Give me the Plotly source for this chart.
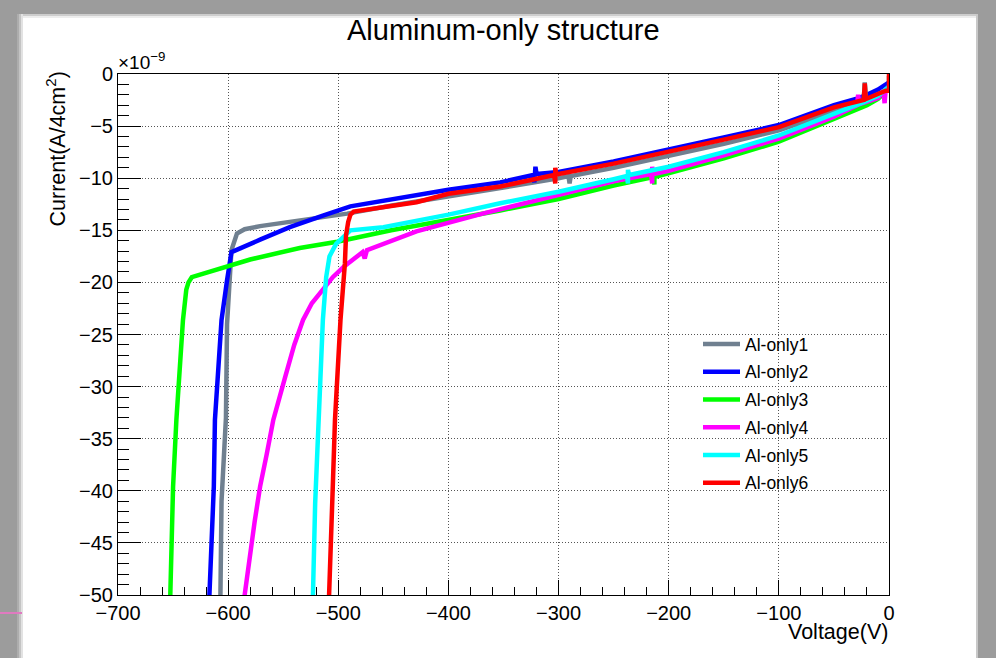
import plotly.graph_objects as go

# ---------------- data (current in units of 1e-9 A/4cm^2) ----------------
names = ["Al-only1", "Al-only2", "Al-only3", "Al-only4", "Al-only5", "Al-only6"]
colors = ["#708090", "#0000ff", "#00ff00", "#ff00ff", "#00ffff", "#ff0000"]

V1 = [0, 0, -5, -10, -21, -22, -23, -30, -50, -100, -150, -200, -250, -289, -290, -291,
      -300, -350, -400, -450, -492, -540, -571, -585, -592, -597, -599, -601, -602, -606, -607, -608]
I1 = [-0.2, -1.2, -1.7, -2.1, -2.6, -0.8, -2.7, -3.0, -3.6, -5.4, -6.7, -7.9, -9.0, -9.8, -10.5, -9.8,
      -10.0, -10.9, -11.7, -12.6, -13.4, -14.1, -14.6, -14.9, -15.3, -16.9, -20.0, -24.0, -33.0, -41.0, -50.0, -52.0]

V2 = [0, -5, -10, -20, -30, -50, -100, -150, -200, -250, -300, -320, -321, -322, -323,
      -353, -400, -450, -489, -514, -544, -571, -590, -597, -601, -606, -612, -613, -617, -618]
I2 = [-0.8, -1.2, -1.5, -2.0, -2.4, -3.0, -4.9, -6.1, -7.3, -8.4, -9.4, -9.6, -8.9, -10.4, -9.7,
      -10.4, -11.1, -12.0, -12.7, -13.6, -14.7, -15.9, -16.7, -17.1, -19.8, -23.6, -33.2, -39.6, -50.0, -52.0]

V3 = [0, -5, -10, -20, -50, -100, -150, -200, -212, -213, -213, -214, -250, -300, -353, -400,
      -452, -501, -535, -580, -620, -633, -636, -638, -641, -644, -647, -650, -652, -653]
I3 = [-1.2, -1.9, -2.4, -3.0, -4.3, -6.5, -8.1, -9.6, -9.9, -9.9, -10.6, -9.9, -10.7, -12.0, -13.1, -14.0,
      -15.0, -16.1, -16.7, -17.8, -19.0, -19.5, -20.0, -20.7, -23.6, -28.0, -33.2, -39.6, -50.0, -52.0]

V4 = [0, -3, -4, -5, -10, -27, -28, -29, -50, -100, -150, -200, -214, -215, -215, -216, -250, -300,
      -369, -429, -474, -476, -478, -495, -505, -514, -524, -532, -540, -548, -555, -559, -565, -571,
      -576, -580, -585, -586]
I4 = [-1.3, -1.5, -2.8, -1.6, -2.3, -2.9, -2.0, -3.0, -4.1, -6.2, -7.8, -9.3, -9.6, -8.9, -10.5, -9.6, -10.3, -11.6,
      -13.4, -15.1, -16.9, -17.7, -17.1, -18.5, -19.5, -20.7, -22.0, -23.6, -26.0, -29.0, -31.6, -33.2, -36.5, -39.6,
      -43.0, -46.0, -50.0, -52.0]

V5 = [0, -5, -10, -21, -22, -23, -50, -100, -150, -200, -236, -237, -237, -238, -250, -300, -353, -400,
      -459, -489, -495, -502, -508, -511, -514, -518, -521, -523, -524]
I5 = [-1.2, -1.6, -2.1, -2.6, -1.0, -2.7, -3.8, -5.9, -7.5, -8.9, -9.7, -9.2, -10.5, -9.8, -10.1, -11.3, -12.4, -13.5,
      -14.7, -15.0, -15.6, -16.3, -17.5, -19.5, -23.6, -33.2, -41.2, -50.0, -52.0]

V6 = [0, 0, -3, -10, -21, -22, -23, -50, -100, -150, -200, -250, -300, -302, -303, -303, -304, -353, -400,
      -429, -470, -486, -489, -491, -493, -494, -498, -503, -505, -508, -509]
I6 = [0.0, -1.6, -1.6, -1.9, -2.4, -0.9, -2.5, -3.2, -5.1, -6.3, -7.5, -8.6, -9.6, -9.65, -9.0, -10.5, -9.7, -10.8, -11.5,
      -12.3, -12.9, -13.2, -13.5, -14.2, -15.5, -18.2, -23.6, -33.2, -39.6, -50.0, -52.0]

VOLTS = [V1, V2, V3, V4, V5, V6]
CURRS = [I1, I2, I3, I4, I5, I6]

# ---------------- layout helpers (pixel -> paper) ----------------
W, H = 996, 658
L, R, T, B = 118, 889, 74, 595


def px(x):
    return (x - L) / (R - L)


def py(y):
    return (B - y) / (B - T)


FONT = "Liberation Sans, Arial, Helvetica, sans-serif"

fig = go.Figure()
for name, col, v, i in zip(names, colors, VOLTS, CURRS):
    fig.add_trace(go.Scatter(x=v, y=i, mode="lines", name=name, legendgroup=name,
                             line=dict(color=col, width=4.5)))

axis_common = dict(
    ticks="inside", tickcolor="black", tickwidth=1,
    showline=True, linecolor="black", linewidth=1, mirror=True,
    showgrid=True, gridcolor="#555555", griddash="1px,2px", gridwidth=1,
    zeroline=False, tickfont=dict(family=FONT, size=20, color="black"),
)
fig.update_xaxes(range=[-700, 0], tick0=0, dtick=100, ticklen=15,
                 minor=dict(dtick=20, ticks="inside", ticklen=8, tickcolor="black", showgrid=False),
                 **axis_common)
fig.update_yaxes(range=[-50, 0], tick0=0, dtick=5, ticklen=23,
                 minor=dict(dtick=1, ticks="inside", ticklen=11, tickcolor="black", showgrid=False),
                 **axis_common)

shapes = []


def band(x0, x1, y0, y1, color):
    shapes.append(dict(type="rect", xref="paper", yref="paper",
                       x0=px(x0), x1=px(x1), y0=py(y0), y1=py(y1),
                       fillcolor=color, line=dict(width=0), layer="above"))


# screenshot window frame
band(0, W, 0, 14, "#9c9c9c")
band(0, W, 14, 16, "#cdcdcd")
band(0, W, 16, 18, "#ededed")
band(0, 17, 0, H, "#9c9c9c")
band(17, 19, 14, H, "#adadad")
band(19, 21, 14, H, "#c4c4c4")
band(21, 23, 14, H, "#e2e2e2")
band(978, W, 0, H, "#9c9c9c")
band(976, 978, 14, H, "#c8c8c8")
shapes.append(dict(type="line", xref="paper", yref="paper",
                   x0=px(0), x1=px(22), y0=py(613), y1=py(613),
                   line=dict(color="#e07ac0", width=2), layer="above"))

annotations = [
    dict(text="Aluminum-only structure", x=px(503), y=py(30), xref="paper", yref="paper",
         xanchor="center", yanchor="middle", showarrow=False,
         font=dict(family=FONT, size=29, color="black")),
    dict(text="×10<sup>−9</sup>", x=px(116), y=py(75), xref="paper", yref="paper",
         xanchor="left", yanchor="bottom", showarrow=False,
         font=dict(family=FONT, size=19, color="black")),
    dict(text="Current(A/4cm<sup>2</sup>)", x=px(56), y=py(69), xref="paper", yref="paper",
         xanchor="center", yanchor="top", textangle=-90, showarrow=False,
         font=dict(family=FONT, size=21.5, color="black")),
    dict(text="Voltage(V)", x=px(890), y=py(632), xref="paper", yref="paper",
         xanchor="right", yanchor="middle", showarrow=False,
         font=dict(family=FONT, size=21.5, color="black")),
]

fig.update_layout(
    width=W, height=H,
    margin=dict(l=L, r=W - R, t=T, b=H - B),
    paper_bgcolor="white", plot_bgcolor="white",
    font=dict(family=FONT, size=18, color="black"),
    showlegend=True,
    legend=dict(x=px(698), y=py(326), xanchor="left", yanchor="top",
                bgcolor="rgba(0,0,0,0)", borderwidth=0, tracegroupgap=2, itemwidth=37,
                font=dict(family=FONT, size=17.5, color="black")),
    shapes=shapes, annotations=annotations,
)

fig.write_html("out.html")
